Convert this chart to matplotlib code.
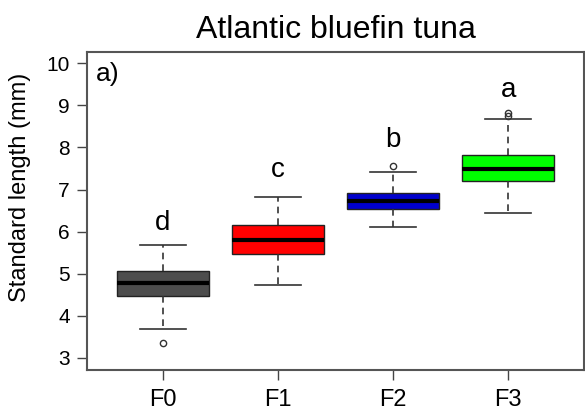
import numpy as np
import matplotlib.pyplot as plt

plt.rcParams['font.family'] = ['Liberation Sans', 'DejaVu Sans']

groups = ["F0", "F1", "F2", "F3"]
q1 = [4.47, 5.47, 6.54, 7.20]
med = [4.77, 5.80, 6.72, 7.48]
q3 = [5.07, 6.16, 6.91, 7.82]
whislo = [3.68, 4.72, 6.12, 6.44]
whishi = [5.68, 6.83, 7.41, 8.68]
outliers = [[3.35], [], [7.57], [8.75, 8.83]]
letters = ["d", "c", "b", "a"]
letter_y = [6.21, 7.47, 8.18, 9.37]
colors = ["#4d4d4d", "#ff0000", "#0000cd", "#00ff00"]

stats = []
for i in range(len(groups)):
    stats.append(dict(q1=q1[i], med=med[i], q3=q3[i], whislo=whislo[i],
                      whishi=whishi[i], fliers=outliers[i], label=groups[i]))

fig = plt.figure(figsize=(5.85, 4.16), dpi=100)
ax = fig.add_axes([0.1487, 0.1106, 0.850, 0.7644])

pos = np.arange(1, len(groups) + 1)
bp = ax.bxp(stats, positions=pos, widths=0.8, patch_artist=True,
            boxprops=dict(edgecolor="#222222", linewidth=1.0),
            medianprops=dict(color="black", linewidth=3),
            whiskerprops=dict(color="#333333", linestyle=(0, (4, 3)), linewidth=1.2),
            capprops=dict(color="#333333", linewidth=1.2),
            flierprops=dict(marker="o", markersize=4.5, markerfacecolor="none",
                            markeredgecolor="#333333", markeredgewidth=1.0),
            capwidths=0.4)
for patch, c in zip(bp["boxes"], colors):
    patch.set_facecolor(c)

for x, lab, y in zip(pos, letters, letter_y):
    ax.text(x, y, lab, ha="center", va="center", fontsize=20)

ax.text(0.018, 0.967, "a)", transform=ax.transAxes, ha="left", va="top", fontsize=19)

ax.set_xlim(0.34, 4.66)
ax.set_ylim(2.71, 10.27)
ax.set_yticks(range(3, 11))
ax.set_xticks(pos)
ax.set_xticklabels(groups)
ax.tick_params(axis="both", color="#444444", length=7.5, width=1)
ax.tick_params(axis="y", labelsize=15, pad=5)
ax.tick_params(axis="x", labelsize=17, pad=6)
ax.set_ylabel("Standard length (mm)", fontsize=17)
ax.yaxis.set_label_coords(-0.112, 0.575)
ax.set_title("Atlantic bluefin tuna", fontsize=23, pad=10)

for s in ax.spines.values():
    s.set_color("#555555")
    s.set_linewidth(1.5)

fig.savefig("out.png", dpi=100)
